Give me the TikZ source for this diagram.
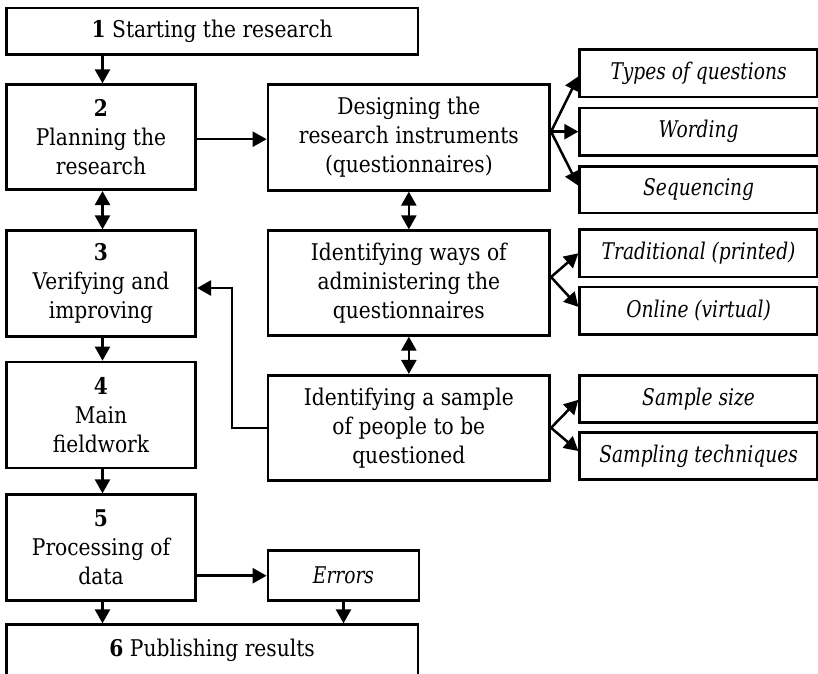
\documentclass[tikz,border=0pt]{standalone}
\usepackage{fontspec}
\setmainfont[FakeStretch=0.88]{DejaVu Serif}
\newfontfamily\itf[FakeStretch=0.81]{DejaVu Serif}
\usetikzlibrary{arrows.meta,calc}
\newcommand\mybox[7]{\node[bx, minimum width={#4-#2}, minimum height={#5-#3}] (#1) at ({(#2+#4)/2},{(#3+#5)/2}) {#6#7};}
\newcommand\myit[1]{{\itf\itshape #1}}
\begin{document}
\begin{tikzpicture}[x=1pt,y=-1pt,
  bx/.style={draw, line width=2.7pt, inner sep=0pt, align=center, font=\fontsize{23}{29}\selectfont},
  arr/.style={line width=2.5pt, -{Triangle[length=14pt,width=15pt]}},
  darr/.style={line width=2.5pt, {Triangle[length=14pt,width=15pt]}-{Triangle[length=14pt,width=15pt]}}]
\useasboundingbox (0,0) rectangle (818,673);
\clip (0,0) rectangle (818,673);
\mybox{b1}{6.3}{8}{418}{54.7}{}{\textbf{1} Starting the research}
\mybox{b2}{6.3}{84.7}{195.7}{189.7}{}{\textbf{2}\\Planning the\\research}
\mybox{des}{268}{84.7}{549.7}{190.3}{}{Designing the\\research instruments\\(questionnaires)}
\mybox{typ}{579.7}{49.7}{817.5}{97}{}{\myit{Types of questions}}
\mybox{wor}{579.7}{108}{817.5}{155.3}{}{\myit{Wording}}
\mybox{seq}{579.7}{166.3}{817.5}{213}{}{\myit{Sequencing}}
\mybox{b3}{6.3}{230.7}{195.7}{336.3}{}{\textbf{3}\\Verifying and\\improving}
\mybox{adm}{268}{230.7}{549.7}{335.3}{}{Identifying ways of\\administering the\\questionnaires}
\mybox{tra}{579.7}{229.7}{817.5}{277}{}{\myit{Traditional (printed)}}
\mybox{onl}{579.7}{287}{817.5}{334.7}{}{\myit{Online (virtual)}}
\mybox{b4}{6.3}{362}{195.7}{468}{}{\textbf{4}\\Main\\fieldwork}
\mybox{smp}{268}{375.3}{549.7}{480.3}{}{Identifying a sample\\of people to be\\questioned}
\mybox{ssz}{579.7}{375.3}{817.5}{422.3}{}{\myit{Sample size}}
\mybox{stq}{579.7}{432.3}{817.5}{479.7}{}{\myit{Sampling techniques}}
\mybox{b5}{6.3}{494.7}{195.7}{600.7}{}{\textbf{5}\\Processing of\\data}
\mybox{err}{268}{550.7}{419}{600.7}{}{\myit{Errors}}
\mybox{b6}{6.3}{624.7}{418}{676.5}{}{\textbf{6} Publishing results}
\coordinate (xa) at (102.5,0);
\coordinate (fb) at (232,288);
\draw[arr] (b1.south -| xa) -- (b2.north -| xa);
\draw[darr] (b2.south -| xa) -- (b3.north -| xa);
\draw[arr] (b3.south -| xa) -- (b4.north -| xa);
\draw[arr] (b4.south -| xa) -- (b5.north -| xa);
\draw[arr] (b5.south -| xa) -- (b6.north -| xa);
\draw[arr] ([yshift=-2pt]b2.east) -- ([yshift=-2pt]b2.east -| des.west);
\draw[darr] (des.south) -- (adm.north);
\draw[darr] (adm.south) -- (smp.north);
\draw[arr] (des.east |- wor.west) -- ([yshift=-3pt]typ.west);
\draw[arr] (des.east |- wor.west) -- (wor.west);
\draw[arr] (des.east |- wor.west) -- ([yshift=4pt]seq.west);
\draw[arr] ([yshift=6pt]adm.east) -- (tra.west);
\draw[arr] ([yshift=6pt]adm.east) -- ([yshift=4pt]onl.west);
\draw[arr] (smp.east) -- ([yshift=-1pt]ssz.west);
\draw[arr] (smp.east) -- ([yshift=5pt]stq.west);
\draw[arr] (smp.west) -| (fb) -- (fb -| b3.east);
\draw[arr] (b5.east |- err.west) -- (err.west);
\draw[arr] (err.south) -- (err.south |- b6.north);
\end{tikzpicture}
\end{document}
